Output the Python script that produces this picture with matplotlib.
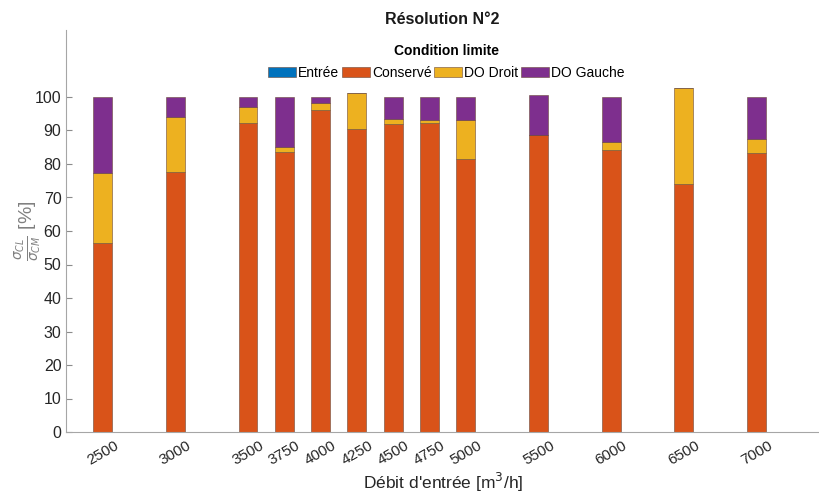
import numpy as np
import matplotlib
matplotlib.use("Agg")
import matplotlib.pyplot as plt
from matplotlib.transforms import ScaledTranslation

plt.rcParams['font.family'] = ['Liberation Sans', 'DejaVu Sans']
plt.rcParams['mathtext.fontset'] = 'dejavusans'

debits = [2500, 3000, 3500, 3750, 4000, 4250, 4500, 4750, 5000, 5500, 6000, 6500, 7000]
entree = [0, 0, 0, 0, 0, 0, 0, 0, 0, 0, 0, 0, 0]
conserve = [56.4, 77.5, 92.1, 83.7, 96.0, 90.4, 91.9, 92.1, 81.4, 88.7, 84.2, 73.9, 83.4]
do_droit = [20.8, 16.4, 5.0, 1.3, 2.3, 10.9, 1.5, 0.9, 11.7, 0.0, 2.5, 28.8, 4.0]
do_gauche = [22.8, 6.1, 2.9, 15.0, 1.7, 0.0, 6.6, 7.0, 6.9, 11.9, 13.3, 0.0, 12.6]

series = [("Entrée", entree, "#0072BD"),
          ("Conservé", conserve, "#D95319"),
          ("DO Droit", do_droit, "#EDB120"),
          ("DO Gauche", do_gauche, "#7E2F8E")]

fig = plt.figure(figsize=(8.19, 5.0), dpi=100)
ax = fig.add_axes([0.081, 0.136, 0.919, 0.804])

bas = np.zeros(len(debits))
for nom, vals, coul in series:
    vals = np.array(vals)
    ax.bar(debits, vals, width=130, bottom=bas, color=coul, label=nom,
           edgecolor='#6b4a3a', linewidth=0.4)
    bas += vals

ax.set_xlim(2250, 7430)
ax.set_ylim(0, 120)
ax.set_yticks(range(0, 101, 10))
ax.set_xticks(debits)
ax.set_xticklabels([str(d) for d in debits], rotation=30, fontsize=11, color='#262626')
decal = ScaledTranslation(-9 / 100, 0, fig.dpi_scale_trans)
for lab in ax.get_xticklabels():
    lab.set_transform(lab.get_transform() + decal)
ax.tick_params(axis='y', direction='in', length=4, color='#8c8c8c', labelsize=11.5, labelcolor='#262626')
ax.tick_params(axis='x', length=0, pad=5)

for s in ['top', 'right']:
    ax.spines[s].set_visible(False)
for s in ['left', 'bottom']:
    ax.spines[s].set_color('#a6a6a6')
    ax.spines[s].set_linewidth(0.8)

ax.set_xlabel("Débit d'entrée [m$^3$/h]", fontsize=12.5, color='#262626', labelpad=2)
ax.set_ylabel(r'$\frac{\sigma_{CL}}{\sigma_{CM}}$ [%]', fontsize=14, color='#808080')
ax.yaxis.set_label_coords(-0.031, 0.5)
ax.set_title("Résolution N°2", fontsize=11.5, fontweight='bold', pad=4, color='#1a1a1a')

leg = ax.legend(loc='upper center', bbox_to_anchor=(0.505, 0.98), ncol=4, frameon=False,
                title="Condition limite", fontsize=10, handlelength=2.0, handleheight=0.72,
                handletextpad=0.15, columnspacing=0.2, borderaxespad=0.0)
leg.get_title().set_fontweight('bold')
leg.get_title().set_fontsize(10)
leg._legend_box.sep = 6

fig.savefig("out.png", dpi=100)
plt.close()
